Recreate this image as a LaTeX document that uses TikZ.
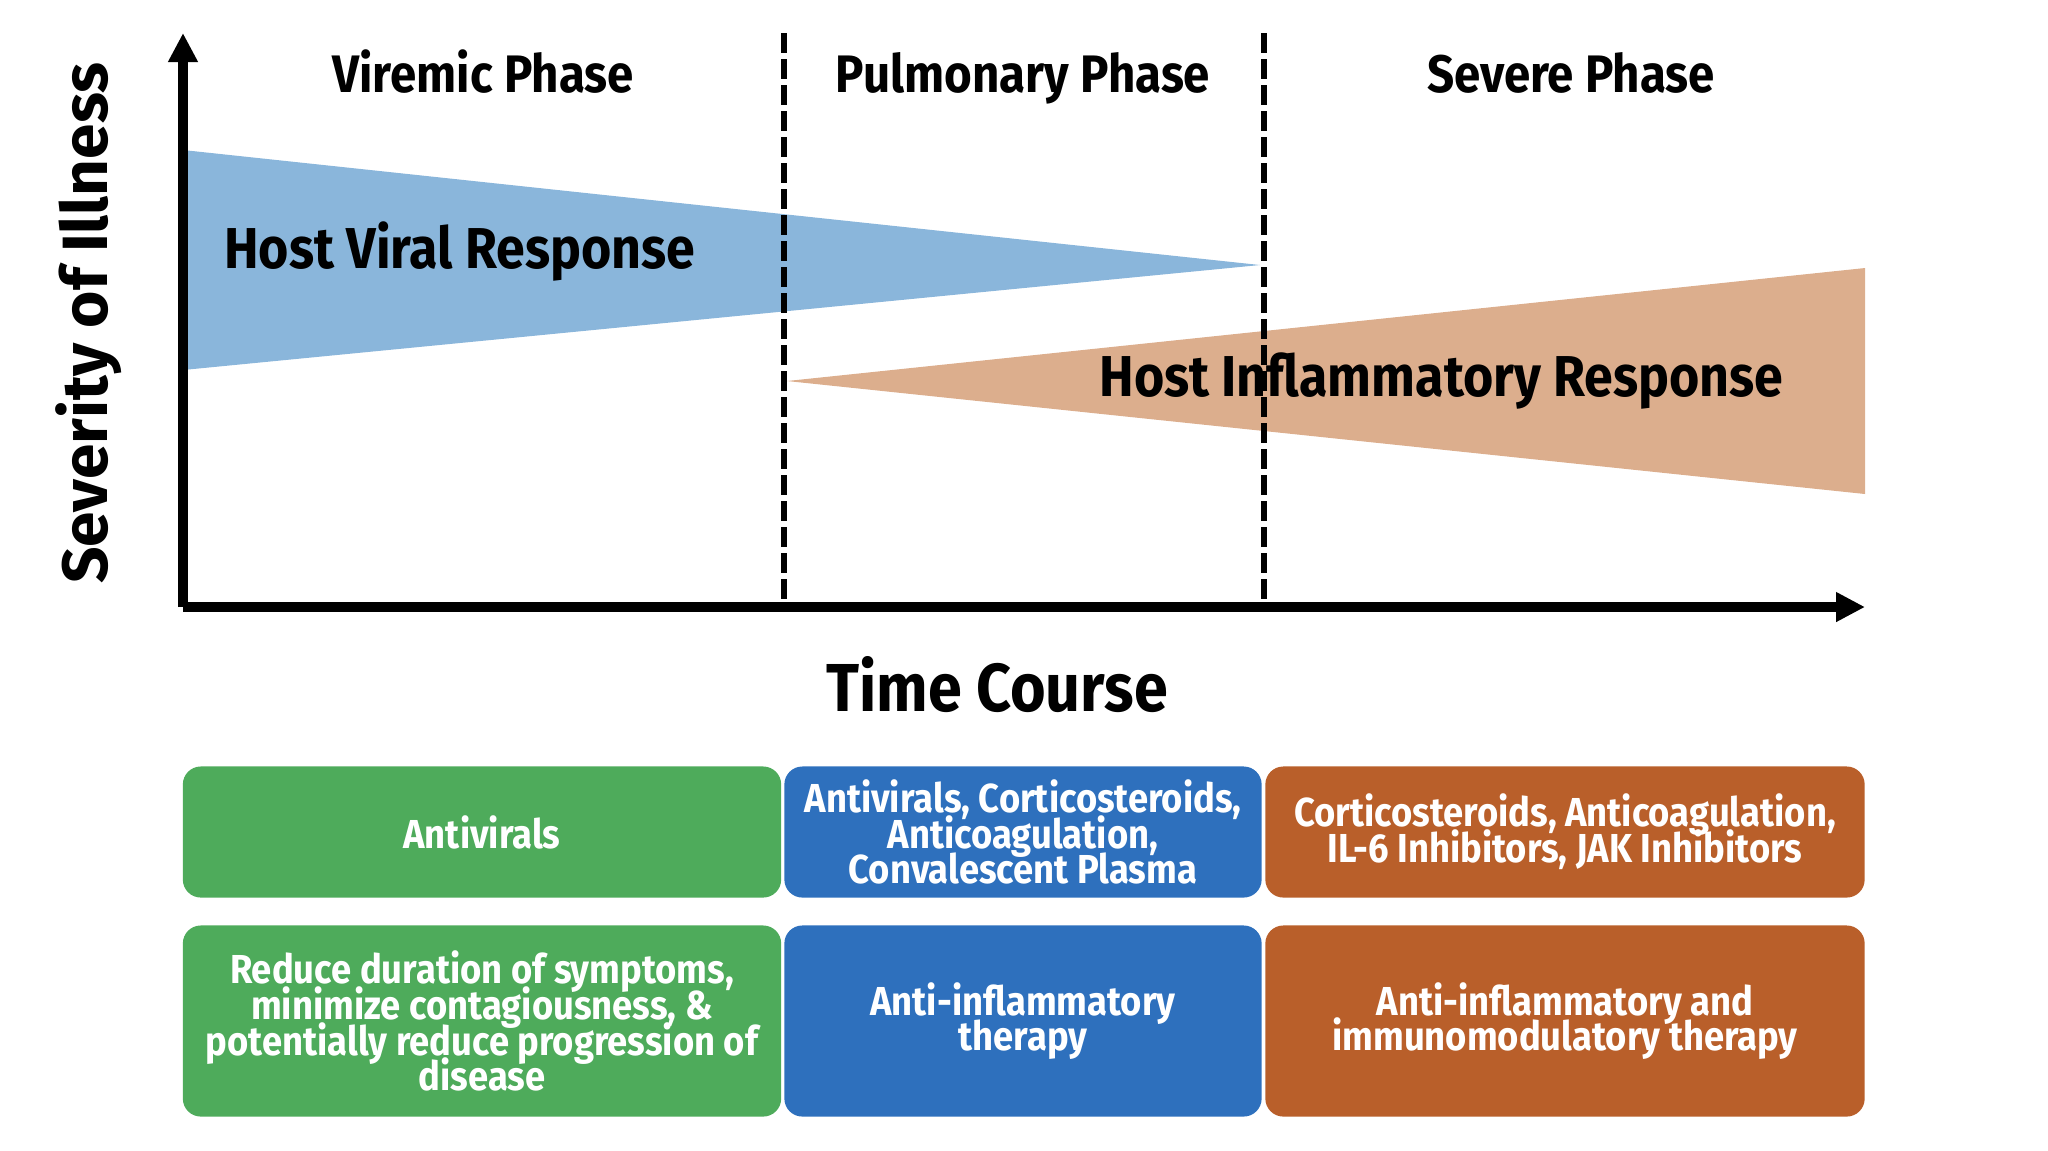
\documentclass[tikz,border=0pt]{standalone}
\usepackage{fontspec}
\setmainfont{Fira Sans}[FakeStretch=0.9]
\newfontfamily\widefont{Fira Sans}
\usetikzlibrary{arrows.meta}
\definecolor{viralblue}{HTML}{8AB6DB}
\definecolor{inflamorange}{HTML}{DCAE8D}
\definecolor{boxgreen}{HTML}{4EAB5B}
\definecolor{boxblue}{HTML}{2E70BD}
\definecolor{boxorange}{HTML}{B95F2A}
\newcommand{\tightlines}{\setlength{\lineskiplimit}{-8pt}}

\begin{document}
\begin{tikzpicture}[x=0.01cm,y=-0.01cm,
    >={Triangle[length=0.29cm,width=0.28cm]},
    axis/.style={line width=2.6pt},
    phaseline/.style={line width=1.8pt,dash pattern=on 0.2cm off 0.06cm},
    phase/.style={anchor=base,font=\fontsize{15}{17}\selectfont\bfseries},
    resp/.style={anchor=base west,font=\fontsize{16.4}{18}\selectfont\bfseries},
    tbox/.style={rounded corners=0.18cm,text=white,align=center,inner sep=2pt,
      outer sep=0pt,font=\fontsize{11.5}{10.2}\selectfont\bfseries\tightlines}
  ]
  \useasboundingbox (0,0) rectangle (2048,1150);

  \coordinate (orig) at (183,607);
  \coordinate (ytip) at (183,33);
  \coordinate (xtip) at (1865,607);
  \coordinate (d1top) at (784,33);
  \coordinate (d1bot) at (784,607);
  \coordinate (d2top) at (1264,33);
  \coordinate (d2bot) at (1264,607);

  % response wedges
  \fill[viralblue] (183,150) -- (1260,265) -- (183,370) -- cycle;
  \fill[inflamorange] (787,381) -- (1865,268) -- (1865,494) -- cycle;

  \draw[phaseline] (d1top) -- (d1bot);
  \draw[phaseline] (d2top) -- (d2bot);
  \draw[axis,->] (orig) -- (ytip);
  \draw[axis,->] (orig) -- (xtip);

  \node[phase] (viremic) at (483,92) {Viremic Phase};
  \node[phase] (pulmonary) at (1023,92) {Pulmonary Phase};
  \node[phase] (severe) at (1571,92) {Severe Phase};

  \node[resp] (viral) at (212,268) {Host Viral Response};
  \node[resp] (inflam) at (1087,396) {Host Inflammatory Response};

  \node[rotate=90,font=\widefont\fontsize{18.2}{20}\selectfont\bfseries] (sev) at (89,323) {Severity of Illness};
  \node[font=\fontsize{19.3}{21}\selectfont\bfseries] (time) at (997,685) {Time Course};

  % treatment boxes
  \node[tbox,fill=boxgreen,minimum width=5.98cm,minimum height=1.31cm] (g1) at (482,832) {Antivirals};
  \node[tbox,fill=boxblue,minimum width=4.77cm,minimum height=1.31cm] (b1) at (1023,832)
    {Antivirals, Corticosteroids,\\Anticoagulation,\\Convalescent Plasma};
  \node[tbox,fill=boxorange,minimum width=5.99cm,minimum height=1.31cm] (o1) at (1565,832)
    {Corticosteroids, Anticoagulation,\\IL-6 Inhibitors, JAK Inhibitors};

  \node[tbox,fill=boxgreen,minimum width=5.98cm,minimum height=1.91cm] (g2) at (482,1021)
    {Reduce duration of symptoms,\\minimize contagiousness, \&\\potentially reduce progression of\\disease};
  \node[tbox,fill=boxblue,minimum width=4.77cm,minimum height=1.91cm] (b2) at (1023,1021)
    {Anti-inflammatory\\therapy};
  \node[tbox,fill=boxorange,minimum width=5.99cm,minimum height=1.91cm] (o2) at (1565,1021)
    {Anti-inflammatory and\\immunomodulatory therapy};
\end{tikzpicture}
\end{document}
